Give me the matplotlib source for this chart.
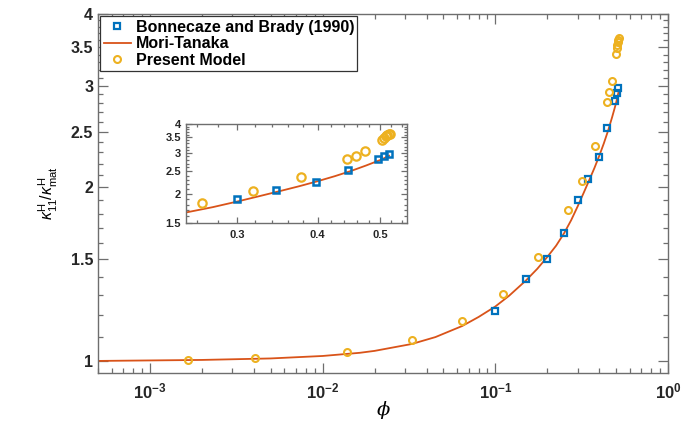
"""
Effective conductivity vs. volume fraction, with a zoomed inset
"""

import math
import matplotlib
matplotlib.use("Agg")
import matplotlib.pyplot as plt
from matplotlib.ticker import MultipleLocator, FuncFormatter, FixedLocator, LogLocator, NullFormatter

plt.rcParams['font.family'] = ['Liberation Sans', 'DejaVu Sans']
plt.rcParams['font.weight'] = 'bold'
plt.rcParams['mathtext.fontset'] = 'custom'
plt.rcParams['mathtext.rm'] = 'Liberation Sans:normal'
plt.rcParams['mathtext.bf'] = 'Liberation Sans:bold'
plt.rcParams['mathtext.it'] = 'Liberation Sans:italic:normal'

BLUE = '#0072BD'
RED = '#D95319'
GOLD = '#EDB120'
SPINE = '#6e6e6e'

# Bonnecaze and Brady (1990)
bb_phi = [0.1, 0.15, 0.2, 0.25, 0.3, 0.345, 0.397, 0.445, 0.496, 0.506, 0.516]
bb_k = [1.22, 1.388, 1.50, 1.666, 1.903, 2.07, 2.258, 2.54, 2.82, 2.915, 2.975]

# Mori-Tanaka
mt_phi = [5e-4, 1e-3, 2e-3, 5e-3, 0.01, 0.0164, 0.02, 0.0328, 0.045, 0.0644, 0.08,
          0.1, 0.12, 0.15, 0.175, 0.2, 0.225, 0.25, 0.275, 0.3, 0.325, 0.35,
          0.375, 0.4, 0.425, 0.45, 0.475, 0.5, 0.516]
mt_k = [1.0, 1.002, 1.004, 1.01, 1.02, 1.033, 1.041, 1.07, 1.10, 1.15, 1.192,
        1.243, 1.297, 1.378, 1.445, 1.515, 1.585, 1.665, 1.755, 1.855, 1.958, 2.06,
        2.162, 2.27, 2.385, 2.51, 2.65, 2.80, 2.92]

# Present Model
pm_phi = [0.00165, 0.00405, 0.0139, 0.033, 0.0645, 0.111, 0.176, 0.265, 0.318,
          0.377, 0.444, 0.458, 0.473, 0.503, 0.507, 0.510, 0.513, 0.515, 0.517]
pm_k = [1.003, 1.011, 1.037, 1.088, 1.173, 1.309, 1.512, 1.83, 2.055, 2.36,
        2.815, 2.927, 3.066, 3.405, 3.495, 3.54, 3.58, 3.61, 3.64]

main_xticks = [1e-3, 1e-2, 1e-1, 1e0]
main_yticks = [1, 1.5, 2, 2.5, 3, 3.5, 4]
inset_yticks = [1.5, 2, 2.5, 3, 3.5, 4]
inset_xticks = [0.3, 0.4, 0.5]


def style_axes(ax, size, major_len, minor_len):
    for s in ax.spines.values():
        s.set_color(SPINE)
        s.set_linewidth(1.0)
    ax.tick_params(which='both', direction='in', top=True, right=True,
                   colors=SPINE, labelcolor='#262626', labelsize=size, width=0.9)
    ax.tick_params(which='major', length=major_len)
    ax.tick_params(which='minor', length=minor_len)


fig = plt.figure(figsize=(6.91, 4.25), dpi=100)
ax = fig.add_axes([0.1418, 0.1224, 0.8249, 0.8447])

ax.plot(bb_phi, bb_k, 's', ms=4.5, mfc='none', mec=BLUE, mew=1.6,
        label='Bonnecaze and Brady (1990)', zorder=3)
ax.plot(mt_phi, mt_k, '-', color=RED, lw=1.3, label='Mori-Tanaka', zorder=2)
ax.plot(pm_phi, pm_k, 'o', ms=5, mfc='none', mec=GOLD, mew=1.5,
        label='Present Model', zorder=4)

ax.set_xscale('log')
ax.set_yscale('log')
ax.set_xlim(5e-4, 1)
ax.set_ylim(0.953, 4)

ax.xaxis.set_major_locator(FixedLocator(main_xticks))
ax.xaxis.set_major_formatter(FuncFormatter(
    lambda v, p: r'$\mathbf{10^{%d}}$' % round(math.log10(v))))
ax.xaxis.set_minor_locator(LogLocator(base=10, subs=range(2, 10), numticks=20))
ax.xaxis.set_minor_formatter(NullFormatter())
ax.yaxis.set_major_locator(FixedLocator(main_yticks))
ax.yaxis.set_major_formatter(FuncFormatter(lambda v, p: '%g' % v))
ax.yaxis.set_minor_locator(MultipleLocator(0.1))
ax.yaxis.set_minor_formatter(NullFormatter())
style_axes(ax, 11.5, 7, 3.5)
ax.tick_params(axis='x', labelsize=12, pad=6)

ax.set_xlabel('ϕ', family='DejaVu Serif', style='italic', weight='normal',
              fontsize=14, labelpad=0)
ax.set_ylabel(r'$\kappa^{\mathrm{H}}_{\mathrm{11}}/\kappa^{\mathrm{H}}_{\mathrm{mat}}$',
              fontsize=11.5, weight='normal', labelpad=8)

leg = ax.legend(loc='upper left', handlelength=1.7, handletextpad=0.3,
                labelspacing=0.1, borderpad=0.2, borderaxespad=0.15,
                fancybox=False, framealpha=1, edgecolor='#333333',
                prop={'weight': 'bold', 'size': 11.5})
leg.get_frame().set_linewidth(0.9)

# inset: zoom on the high volume fractions
ins_bb = [(p, k) for p, k in zip(bb_phi, bb_k) if p >= 0.3]
ins = fig.add_axes([0.2692, 0.4753, 0.3198, 0.2329])
ins.plot(mt_phi, mt_k, '-', color=RED, lw=1.3, zorder=2)
ins.plot([p for p, _ in ins_bb], [k for _, k in ins_bb], 's', ms=5,
         mfc='none', mec=BLUE, mew=1.8, zorder=3)
ins.plot(pm_phi, pm_k, 'o', ms=6, mfc='none', mec=GOLD, mew=1.6, zorder=4)
ins.set_xscale('log')
ins.set_yscale('log')
ins.set_xlim(0.25, 0.55)
ins.set_ylim(1.5, 4)
ins.xaxis.set_major_locator(FixedLocator(inset_xticks))
ins.xaxis.set_major_formatter(FuncFormatter(lambda v, p: '%g' % v))
ins.xaxis.set_minor_locator(MultipleLocator(0.02))
ins.xaxis.set_minor_formatter(NullFormatter())
ins.yaxis.set_major_locator(FixedLocator(inset_yticks))
ins.yaxis.set_major_formatter(FuncFormatter(lambda v, p: '%g' % v))
ins.yaxis.set_minor_locator(MultipleLocator(0.1))
ins.yaxis.set_minor_formatter(NullFormatter())
style_axes(ins, 8, 4, 2)
ins.tick_params(axis='x', pad=5)

fig.savefig('out.png', dpi=100)
